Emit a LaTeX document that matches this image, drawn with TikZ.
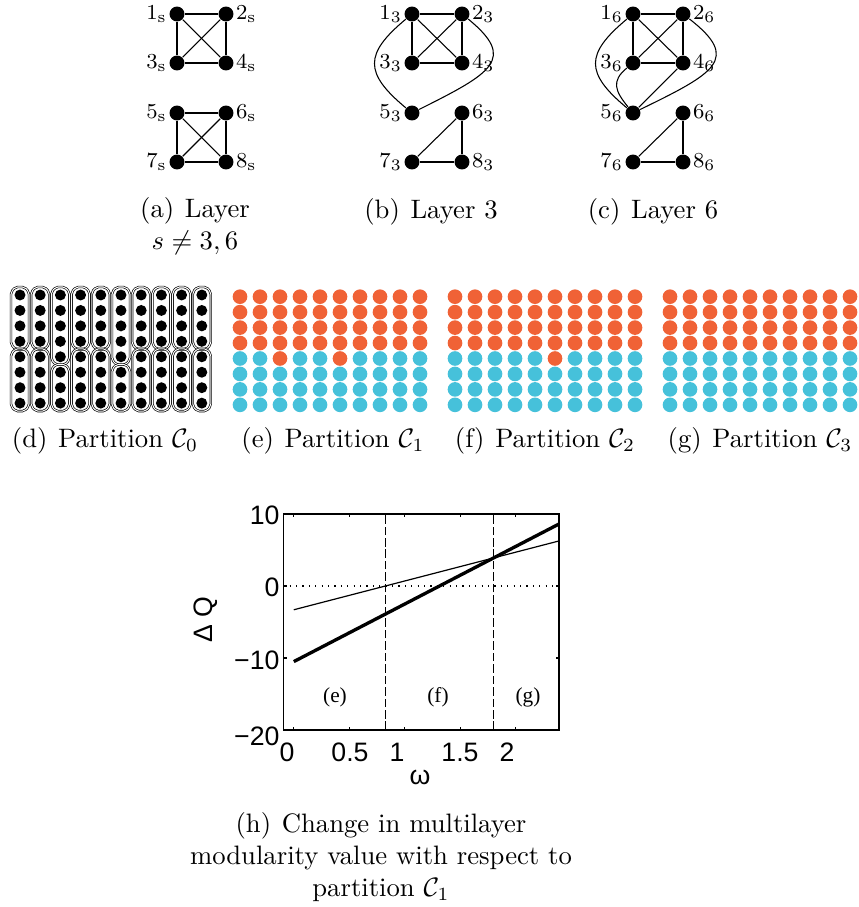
\documentclass[tikz,border=0pt]{standalone}
\usepackage{amsmath}
\usepackage{amssymb}
\usepackage{fontspec}
\usepackage{tikz}
\usetikzlibrary{
    arrows.meta,
    positioning,
    calc
}
\newfontfamily\plotsans{Liberation Sans}
\newfontfamily\plotserif{Liberation Serif}
\definecolor{ModOrange}{RGB}{240,98,54}
\definecolor{ModBlue}{RGB}{70,193,218}
\newcommand{\grpbox}[3]{%
    \draw[grpline]
        (#1-4.5,#2-8) -- (#1+4.5,#2-8) -- (#1+9,#2-3) -- (#1+9,#3+3)
        -- (#1+4.5,#3+8) -- (#1-4.5,#3+8) -- (#1-9,#3+3) -- (#1-9,#2-3) -- cycle;}
\newcommand{\capsep}{\hskip 4pt}

\begin{document}
\begin{tikzpicture}[
    x=0.375pt, y=-0.375pt,
    vtx/.style={circle, fill=black, inner sep=0pt, minimum size=5.6pt},
    lbl/.style={font=\footnotesize, inner sep=0.6pt},
    gdot/.style={circle, fill=black, inner sep=0pt, minimum size=4.1pt},
    cdot/.style={circle, inner sep=0pt, minimum size=5.5pt},
    grpline/.style={double, double distance=0.38pt, line width=0.25pt, rounded corners=0.8pt},
    capt/.style={align=center, font=\normalsize, inner sep=0pt},
    tick/.style={font=\plotsans\fontsize{10}{12}\selectfont, inner sep=0pt},
    region/.style={font=\plotserif\fontsize{8}{10}\selectfont, inner sep=0pt}
]

\useasboundingbox (0,0) rectangle (858,907);

% layer graphs
\node[vtx, label={[lbl]left:$1_{\mathrm{s}}$}]  (a1) at (177,14)  {};
\node[vtx, label={[lbl]right:$2_{\mathrm{s}}$}] (a2) at (226,14)  {};
\node[vtx, label={[lbl]left:$3_{\mathrm{s}}$}]  (a3) at (177,63)  {};
\node[vtx, label={[lbl]right:$4_{\mathrm{s}}$}] (a4) at (226,63)  {};
\node[vtx, label={[lbl]left:$5_{\mathrm{s}}$}]  (a5) at (177,113) {};
\node[vtx, label={[lbl]right:$6_{\mathrm{s}}$}] (a6) at (226,113) {};
\node[vtx, label={[lbl]left:$7_{\mathrm{s}}$}]  (a7) at (177,162) {};
\node[vtx, label={[lbl]right:$8_{\mathrm{s}}$}] (a8) at (226,162) {};

\foreach \u/\v in {1/2,1/3,1/4,2/3,2/4,3/4,5/6,5/7,5/8,6/7,6/8,7/8}
    \draw (a\u) -- (a\v);

\foreach \n/\lx/\ly in {1/412/14, 2/462/14, 3/412/63, 4/462/63,
                        5/412/113, 6/462/113, 7/412/162, 8/462/162} {
    \pgfmathtruncatemacro\side{mod(\n,2)}
    \ifnum\side=1
        \node[vtx, label={[lbl]left:$\n_3$}] (b\n) at (\lx,\ly) {};
    \else
        \node[vtx, label={[lbl]right:$\n_3$}] (b\n) at (\lx,\ly) {};
    \fi
}

\foreach \u/\v in {1/2,1/3,1/4,2/3,2/4,3/4,6/7,6/8,7/8}
    \draw (b\u) -- (b\v);
\draw (b1) .. controls +(-48,40) and +(-48,-40) .. (b5);
\draw (b2) .. controls +(55,45) and +(80,-40) .. (b5);

\foreach \n/\lx/\ly in {1/633/14, 2/683/14, 3/633/63, 4/683/63,
                        5/633/113, 6/683/113, 7/633/162, 8/683/162} {
    \pgfmathtruncatemacro\side{mod(\n,2)}
    \ifnum\side=1
        \node[vtx, label={[lbl]left:$\n_6$}] (c\n) at (\lx,\ly) {};
    \else
        \node[vtx, label={[lbl]right:$\n_6$}] (c\n) at (\lx,\ly) {};
    \fi
}

\foreach \u/\v in {1/2,1/3,1/4,2/3,2/4,3/4,4/5,6/7,6/8,7/8}
    \draw (c\u) -- (c\v);
\draw (c1) .. controls +(-48,40) and +(-48,-40) .. (c5);
\draw (c2) .. controls +(58,45) and +(82,-40) .. (c5);
\draw (c3) .. controls +(-22,18) and +(-18,-22) .. (c5);

\node[capt] (capa) at (195,226) {(a)\capsep Layer\\$s\neq 3,6$};
\node[capt] (capb) at (431,212) {(b)\capsep Layer 3};
\node[capt] (capc) at (653,212) {(c)\capsep Layer 6};

% partitions
\foreach \i in {1,...,10} {
    \pgfmathsetmacro\cx{20+20.2*(\i-1)}
    \pgfmathtruncatemacro\cut{((\i==3)||(\i==6)) ? 5 : 4}
    \foreach \j in {1,...,8}
        \node[gdot] (d-\i-\j) at (\cx,{295+15.45*(\j-1)}) {};
    \pgfmathsetmacro\yb{295+15.45*(\cut-1)}
    \pgfmathsetmacro\yc{295+15.45*\cut}
    \grpbox{\cx}{295}{\yb}
    \grpbox{\cx}{\yc}{403.15}
}

\foreach \g/\xo/\oa/\ob in {e/240/3/6, f/455/6/6, g/670/0/0} {
    \foreach \i in {1,...,10} {
        \foreach \j in {1,...,8} {
            \pgfmathtruncatemacro\isred{(\j<5)||((\j==5)&&((\i==\oa)||(\i==\ob)))}
            \ifnum\isred=1 \def\col{ModOrange}\else\def\col{ModBlue}\fi
            \node[cdot, fill=\col] (\g-\i-\j)
                at ({\xo+20*(\i-1)},{296.7+15.45*(\j-1)}) {};
        }
    }
}

\node[capt] (capd) at (105,441) {(d)\capsep Partition $\mathcal{C}_0$};
\node[capt] (cape) at (333,441) {(e)\capsep Partition $\mathcal{C}_1$};
\node[capt] (capf) at (545,441) {(f)\capsep Partition $\mathcal{C}_2$};
\node[capt] (capg) at (760,441) {(g)\capsep Partition $\mathcal{C}_3$};

% modularity plot
\begin{scope}[xshift=110.175pt, yshift=-219.75pt, x=41.625pt, y=2.7pt]
    \coordinate (LL) at (-0.095,-20);
    \coordinate (UR) at (2.39,10);
    \draw[dotted, line width=0.4pt] (-0.095,0) -- (2.39,0);
    \draw[line width=0.65pt, dash pattern=on 3.2pt off 1.1pt] (0.825,-20) -- (0.825,10);
    \draw[line width=0.65pt, dash pattern=on 3.2pt off 1.1pt] (1.8,-20) -- (1.8,10);
    \coordinate (T0) at (0,-3.3);
    \coordinate (T1) at (2.39,6.26);
    \coordinate (K0) at (0,-10.5);
    \coordinate (K1) at (2.39,8.62);
    \draw[line width=0.45pt] (T0) -- (T1);
    \draw[line width=1.25pt] (K0) -- (K1);
    \foreach \t in {0,0.5,1,1.5,2} {
        \draw[line width=0.4pt] (\t,-20) -- ++(0,0.45);
        \draw[line width=0.4pt] (\t,10) -- ++(0,-0.45);
    }
    \foreach \t in {-20,-10,0,10} {
        \draw[line width=0.4pt] (-0.095,\t) -- ++(0.03,0);
        \draw[line width=0.4pt] (2.39,\t) -- ++(-0.03,0);
    }
    \draw[line width=0.55pt] (LL) rectangle (UR);
\end{scope}

\foreach \lab/\px in {0/287, 0.5/350, 1/397, 1.5/460, 2/507}
    \node[tick] (xt\px) at (\px,752) {\lab};
\foreach \lab/\py in {10/515, 0/587, −10/660, −20/736}
    \node[tick, anchor=east] (yt\py) at (280,\py) {\lab};

\node[tick] (xlab) at (420,777) {ω};
\node[tick, rotate=90] (ylab) at (206,620) {Δ Q};

\node[region] (re) at (335,697) {(e)};
\node[region] (rf) at (438,697) {(f)};
\node[region] (rg) at (528,697) {(g)};

\node[capt] (caph) at (381,857)
    {(h)\capsep Change in multilayer\\modularity value with respect to\\partition $\mathcal{C}_1$};

\end{tikzpicture}
\end{document}
